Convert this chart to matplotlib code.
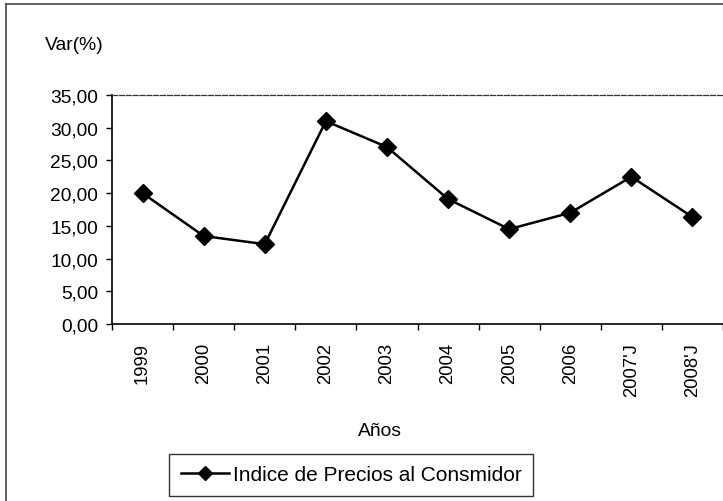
import matplotlib
matplotlib.use("Agg")
from matplotlib import pyplot as plt
from matplotlib.lines import Line2D
from matplotlib.ticker import FuncFormatter, FixedLocator

years = ["1999", "2000", "2001", "2002", "2003", "2004", "2005", "2006", "2007'J", "2008'J"]
ipc = [20.0, 13.45, 12.2, 31.0, 27.05, 19.1, 14.5, 17.0, 22.5, 16.35]
y_ticks = [0, 5, 10, 15, 20, 25, 30, 35]

plt.rcParams['font.family'] = ['Liberation Sans', 'DejaVu Sans']

fig = plt.figure(figsize=(7.23, 5.02), dpi=100)
ax = fig.add_axes([112/723, 177/502, 611/723, 229/502])

x = list(range(len(years)))
line, = ax.plot(x, ipc, color="black", linewidth=1.8, marker="D", markersize=9,
                markerfacecolor="black", markeredgecolor="black",
                label="Indice de Precios al Consmidor")

ax.set_xlim(-0.5, len(years) - 0.5)
ax.set_ylim(0, 35)
ax.set_yticks(y_ticks)
ax.yaxis.set_major_formatter(FuncFormatter(lambda v, p: f"{v:.2f}".replace(".", ",")))
ax.tick_params(axis="y", labelsize=13.8, length=4, width=1, direction="out", pad=6)

# category labels centred, tick marks on the category boundaries
ax.set_xticks(x)
ax.set_xticklabels(years, rotation=90, fontsize=13.3)
ax.tick_params(axis="x", which="major", length=0, pad=13)
ax.xaxis.set_minor_locator(FixedLocator([i + 0.5 for i in range(-1, len(years))]))
ax.tick_params(axis="x", which="minor", length=4, width=1, direction="out")

for s in ["left", "bottom"]:
    ax.spines[s].set_linewidth(1.2)
ax.spines["top"].set_linestyle((0, (4, 1.5)))
ax.spines["top"].set_linewidth(0.9)
ax.spines["top"].set_color("#333333")
ax.spines["right"].set_visible(False)

fig.text(45/723, 1 - 45/502, "Var(%)", fontsize=13.9, va="center", ha="left")
fig.text(380/723, 1 - 432/502, "Años", fontsize=13.9, va="center", ha="center")

# outer frame of the chart
fig.add_artist(Line2D([6/723, 6/723], [0, 1 - 5/502], color="#444444", linewidth=1.2))
fig.add_artist(Line2D([6/723, 1], [1 - 5/502, 1 - 5/502], color="#444444", linewidth=1.2))

leg = fig.legend(handles=[line], loc="center", bbox_to_anchor=(351/723, 1 - 476/502),
                 fontsize=15, frameon=True, fancybox=False, edgecolor="black",
                 handlelength=2.3, handletextpad=0.2, borderpad=0.55, borderaxespad=0,
                 markerscale=0.75)
leg.get_frame().set_linewidth(1.0)

plt.savefig("out.png", dpi=100)
